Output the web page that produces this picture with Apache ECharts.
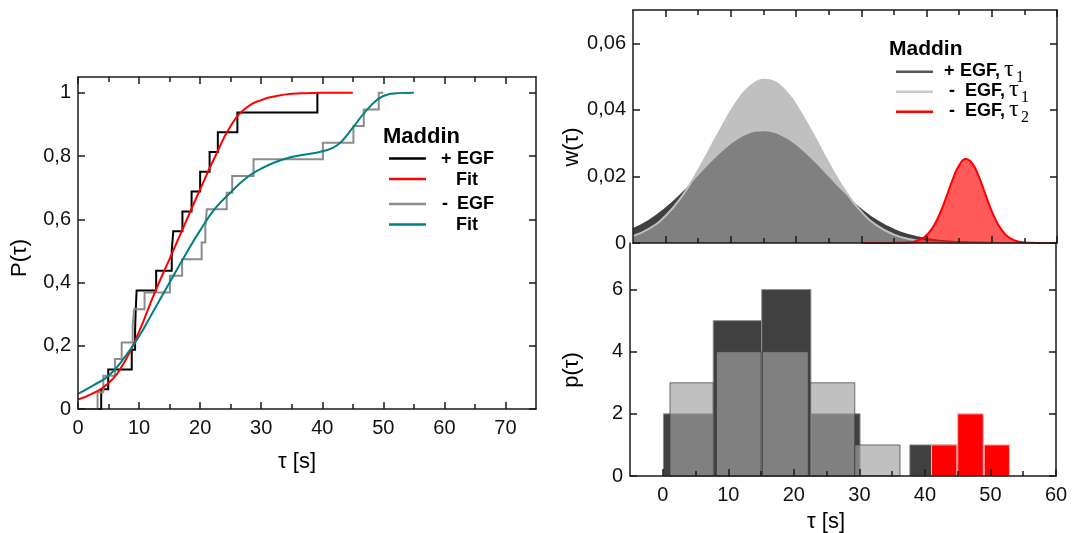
<!DOCTYPE html>
<html><head><meta charset="utf-8">
<script src="https://cdn.jsdelivr.net/npm/echarts@6/dist/echarts.min.js"></script>
<style>html,body{margin:0;padding:0;background:#fff}#c{width:1075px;height:533px}</style>
</head><body><div id="c"></div>
<script>
// ---------- Left panel: cumulative distributions ----------
const egfPlusT = [0, 3.8, 4.95, 8.8, 9.35, 9.45, 9.6, 12.8, 15.35, 15.6, 17.1, 18.6, 20.0, 21.55, 22.9, 26.1, 39.2];
const egfPlusP = [0, 0.0625, 0.125, 0.1875, 0.25, 0.3125, 0.375, 0.4375, 0.5, 0.5625, 0.625, 0.6875, 0.75, 0.8125, 0.875, 0.9375, 1.0];
const egfMinusT = [0, 3.2, 4.15, 6.05, 7.15, 8.95, 9.2, 10.9, 15.05, 17.05, 20.25, 20.85, 21.1, 24.35, 25.25, 28.75, 40.1, 45.1, 46.8, 49.25, 50.0];
const egfMinusP = [0, 0.0526, 0.1053, 0.1579, 0.2105, 0.2632, 0.3158, 0.3684, 0.4211, 0.4737, 0.5263, 0.5789, 0.6316, 0.6842, 0.7368, 0.7895, 0.8421, 0.8947, 0.9474, 1.0, 1.0];
const fitPlusT = [0, 2.5, 5, 7.5, 10, 12.5, 15, 17.5, 20, 22.5, 25, 27.5, 30, 32.5, 35, 37.5, 40, 42.5, 45];
const fitPlusP = [0.030, 0.050, 0.082, 0.145, 0.245, 0.365, 0.475, 0.585, 0.695, 0.800, 0.895, 0.952, 0.977, 0.990, 0.997, 0.999, 1.0, 1.0, 1.0];
const fitMinusT = [0, 2.5, 5, 7.5, 10, 12.5, 15, 17.5, 20, 22.5, 25, 27.5, 30, 32.5, 35, 37.5, 40, 42.5, 45, 47.5, 50, 52.5, 55];
const fitMinusP = [0.048, 0.075, 0.105, 0.160, 0.230, 0.315, 0.400, 0.485, 0.565, 0.635, 0.685, 0.730, 0.760, 0.782, 0.797, 0.806, 0.815, 0.835, 0.890, 0.950, 0.990, 0.999, 1.0];

// ---------- Top right: w(tau) ----------
const wT = [-5, -2.5, 0, 2.5, 5, 7.5, 10, 11.25, 12.5, 13.75, 15, 16.25, 17.5, 18.75, 20, 22.5, 25, 27.5, 30, 32.5, 35, 37.5, 40, 42.5, 45, 47.5, 50, 52.5, 55, 57.5, 60];
const wPlusTau1 = [0.00413, 0.00675, 0.01033, 0.01481, 0.01986, 0.02495, 0.02934, 0.03104, 0.03230, 0.03310, 0.03330, 0.03298, 0.03213, 0.03080, 0.02903, 0.02456, 0.01945, 0.01442, 0.01001, 0.00650, 0.00396, 0.00226, 0.00120, 0.00060, 0.00028, 0.00012, 0.00005, 0.00002, 0.00001, 0, 0];
const wMinusTau1 = [0.00211, 0.00436, 0.00821, 0.01405, 0.02183, 0.03085, 0.03962, 0.04332, 0.04625, 0.04820, 0.04907, 0.04876, 0.04732, 0.04483, 0.04148, 0.03304, 0.02393, 0.01575, 0.00942, 0.00513, 0.00253, 0.00114, 0.00046, 0.00017, 0.00006, 0.00002, 0.00001, 0, 0, 0, 0];
const wT2 = [30, 32, 34, 36, 37, 38, 39, 40, 41, 42, 43, 44, 45, 46, 47, 48, 49, 50, 51, 52, 53, 54, 55, 56, 57, 58, 60];
const wMinusTau2 = [0, 0, 0, 0.00004, 0.00013, 0.00039, 0.00101, 0.00235, 0.00480, 0.00863, 0.01365, 0.01902, 0.02333, 0.02520, 0.02393, 0.02002, 0.01474, 0.00955, 0.00545, 0.00274, 0.00121, 0.00047, 0.00016, 0.00005, 0.00001, 0, 0];

// ---------- Bottom right: histograms p(tau) ----------
const histPlusStart = [0.1, 7.7, 15.1, 22.6, 37.7];
const histPlusEnd = [7.7, 15.1, 22.6, 30.1, 45.1];
const histPlusCount = [2, 5, 6, 2, 1];
const histMinus1Start = [1.1, 8.2, 15.2, 22.5, 29.3];
const histMinus1End = [7.7, 15.0, 22.2, 29.3, 36.2];
const histMinus1Count = [3, 4, 4, 3, 1];
const histMinus2Start = [41.0, 45.0, 49.05];
const histMinus2End = [44.85, 48.9, 52.9];
const histMinus2Count = [1, 2, 1];

// ---------- Ticks ----------
const leftXMajor = [0, 10, 20, 30, 40, 50, 60, 70];
const leftXMinor = [5, 15, 25, 35, 45, 55, 65];
const leftYMajor = [0, 0.2, 0.4, 0.6, 0.8, 1];
const rightXMajor = [0, 10, 20, 30, 40, 50, 60];
const rightXMinor = [5, 15, 25, 35, 45, 55];
const wYMajor = [0, 0.02, 0.04, 0.06];
const pYMajor = [0, 2, 4, 6];

const AX = '#1a1a1a';
const FONT = 'Liberation Sans';
function pairs(a, b) { return a.map((v, i) => [v, b[i]]); }
function triples(a, b, c) { return a.map((v, i) => [v, b[i], c[i]]); }

function xAxis(grid, min, max, pos, ticks, len, opts) {
  opts = opts || {};
  return {
    type: 'value', gridIndex: grid, min: min, max: max, interval: 5, position: pos, z: 10,
    axisLine: { show: opts.line !== false, onZero: false, lineStyle: { color: AX, width: 1.5 } },
    axisTick: { show: true, inside: true, length: len, customValues: ticks, lineStyle: { color: AX, width: 1.5 } },
    axisLabel: opts.labels ? { show: true, customValues: opts.labels, margin: 9, color: '#111', fontFamily: FONT, fontSize: 20, formatter: v => String(v) } : { show: false },
    splitLine: { show: false }
  };
}
function yAxis(grid, min, max, interval, pos, ticks, fmt) {
  return {
    type: 'value', gridIndex: grid, min: min, max: max, interval: interval, position: pos, z: 10,
    axisLine: { show: true, onZero: false, lineStyle: { color: AX, width: 1.5 } },
    axisTick: { show: true, inside: true, length: 7, customValues: ticks, lineStyle: { color: AX, width: 1.5 } },
    axisLabel: fmt ? { show: true, customValues: ticks, margin: 7, color: '#111', fontFamily: FONT, fontSize: 20, formatter: fmt } : { show: false },
    splitLine: { show: false }
  };
}

function barItem(fill, stroke) {
  return function (params, api) {
    const a = api.coord([api.value(0), api.value(2)]);
    const b = api.coord([api.value(1), 0]);
    return { type: 'rect', shape: { x: a[0], y: a[1], width: b[0] - a[0], height: b[1] - a[1] },
      style: { fill: fill, stroke: stroke, lineWidth: 1 } };
  };
}

function T(x, y, text, font, opts) {
  opts = opts || {};
  return { type: 'text', x: x, y: y, rotation: opts.rot || 0, z: 100,
    style: { text: text, font: font, fill: '#000', textAlign: opts.align || 'left', align: opts.align || 'left',
      textVerticalAlign: 'middle', verticalAlign: 'middle' } };
}
function L(x1, x2, y, color) {
  return { type: 'line', z: 100, shape: { x1: x1, y1: y, x2: x2, y2: y }, style: { stroke: color, lineWidth: 2.5 } };
}
const B18 = 'bold 18px "Liberation Sans"';
const TAU = '24px "Liberation Serif"';
const SUB = '16px "Liberation Serif"';
const graphics = [
  T(20, 258, 'P(τ)', '22px "Liberation Sans"', { align: 'center', rot: Math.PI / 2 }),
  T(297, 462, 'τ [s]', '22px "Liberation Sans"', { align: 'center' }),
  T(572, 147, 'w(τ)', '22px "Liberation Sans"', { align: 'center', rot: Math.PI / 2 }),
  T(572, 370, 'p(τ)', '22px "Liberation Sans"', { align: 'center', rot: Math.PI / 2 }),
  T(826, 522, 'τ [s]', '22px "Liberation Sans"', { align: 'center' }),
  // left legend
  T(383, 137, 'Maddin', 'bold 22px "Liberation Sans"'),
  L(389, 426, 158.5, '#000000'), L(389, 426, 179, '#ff0000'), L(389, 426, 204, '#8c8c8c'), L(389, 426, 224.5, '#008080'),
  T(441, 159, '+', B18), T(457, 159, 'EGF', B18),
  T(456, 180, 'Fit', B18),
  T(442, 204.5, '-', B18), T(457, 204.5, 'EGF', B18),
  T(456, 225, 'Fit', B18),
  // right legend
  T(889, 49, 'Maddin', 'bold 21px "Liberation Sans"'),
  L(896, 933, 71.7, '#555555'), L(896, 933, 91.7, '#c8c8c8'), L(896, 933, 111.7, '#ff0000'),
  T(944, 71, '+', B18), T(960, 71, 'EGF,', B18), T(1004, 70, 'τ', TAU), T(1016, 78, '1', SUB),
  T(949, 91, '-', B18), T(965, 91, 'EGF,', B18), T(1009, 90, 'τ', TAU), T(1021, 98, '1', SUB),
  T(949, 111, '-', B18), T(965, 111, 'EGF,', B18), T(1009, 110, 'τ', TAU), T(1021, 118, '2', SUB)
];

const option = {
  animation: false,
  backgroundColor: '#ffffff',
  grid: [
    { left: 78, top: 77, width: 458, height: 332 },
    { left: 633, top: 10, width: 424, height: 233 },
    { left: 630, top: 243, width: 426, height: 233 }
  ],
  xAxis: [
    xAxis(0, 0, 75, 'bottom', leftXMajor, 7, { labels: leftXMajor }),
    xAxis(0, 0, 75, 'bottom', leftXMinor, 5, { line: false }),
    xAxis(0, 0, 75, 'top', leftXMajor, 7),
    xAxis(0, 0, 75, 'top', leftXMinor, 5, { line: false }),
    xAxis(1, -5, 60, 'bottom', rightXMajor, 7),
    xAxis(1, -5, 60, 'bottom', rightXMinor, 5, { line: false }),
    xAxis(1, -5, 60, 'top', rightXMajor, 7),
    xAxis(1, -5, 60, 'top', rightXMinor, 5, { line: false }),
    xAxis(2, -5, 60, 'bottom', rightXMajor, 7, { labels: rightXMajor }),
    xAxis(2, -5, 60, 'bottom', rightXMinor, 5, { line: false })
  ],
  yAxis: [
    yAxis(0, 0, 1.05, 0.05, 'left', leftYMajor, v => v === 0 ? '0' : (v === 1 ? '1' : v.toFixed(1).replace('.', ','))),
    yAxis(0, 0, 1.05, 0.05, 'right', leftYMajor),
    yAxis(1, 0, 0.07, 0.01, 'left', wYMajor, v => v === 0 ? '0' : v.toFixed(2).replace('.', ',')),
    yAxis(1, 0, 0.07, 0.01, 'right', wYMajor),
    yAxis(2, 0, 7.5, 0.5, 'left', pYMajor, v => String(v)),
    yAxis(2, 0, 7.5, 0.5, 'right', pYMajor)
  ],
  graphic: graphics,
  series: [
    { type: 'line', xAxisIndex: 0, yAxisIndex: 0, step: 'end', symbol: 'none', data: pairs(egfPlusT, egfPlusP),
      lineStyle: { color: '#000000', width: 2, join: 'miter' } },
    { type: 'line', xAxisIndex: 0, yAxisIndex: 0, step: 'end', symbol: 'none', data: pairs(egfMinusT, egfMinusP),
      lineStyle: { color: '#8c8c8c', width: 2, join: 'miter' } },
    { type: 'line', xAxisIndex: 0, yAxisIndex: 0, smooth: 0.5, symbol: 'none', data: pairs(fitPlusT, fitPlusP),
      lineStyle: { color: '#ff0000', width: 2 } },
    { type: 'line', xAxisIndex: 0, yAxisIndex: 0, smooth: 0.5, symbol: 'none', data: pairs(fitMinusT, fitMinusP),
      lineStyle: { color: '#008080', width: 2 } },

    { type: 'line', z: 2, xAxisIndex: 4, yAxisIndex: 2, smooth: 0.5, symbol: 'none', data: pairs(wT, wPlusTau1),
      lineStyle: { color: '#404040', width: 2 }, areaStyle: { color: '#404040', opacity: 1 } },
    { type: 'line', z: 3, xAxisIndex: 4, yAxisIndex: 2, smooth: 0.5, symbol: 'none', data: pairs(wT, wMinusTau1),
      lineStyle: { color: '#c0c0c0', width: 2 }, areaStyle: { color: 'rgba(160,160,160,0.665)', opacity: 1 } },
    { type: 'line', z: 4, xAxisIndex: 4, yAxisIndex: 2, smooth: 0.5, symbol: 'none', data: pairs(wT2, wMinusTau2),
      lineStyle: { color: '#ff0000', width: 2 }, areaStyle: { color: 'rgba(255,0,0,0.65)', opacity: 1 } },

    { type: 'custom', xAxisIndex: 8, yAxisIndex: 4, renderItem: barItem('#404040', '#8c8c8c'),
      encode: { x: [0, 1], y: 2 }, data: triples(histPlusStart, histPlusEnd, histPlusCount) },
    { type: 'custom', xAxisIndex: 8, yAxisIndex: 4, renderItem: barItem('rgba(160,160,160,0.665)', 'rgba(60,60,60,0.7)'),
      encode: { x: [0, 1], y: 2 }, data: triples(histMinus1Start, histMinus1End, histMinus1Count) },
    { type: 'custom', xAxisIndex: 8, yAxisIndex: 4, renderItem: barItem('#ff0000', '#ffb0b0'),
      encode: { x: [0, 1], y: 2 }, data: triples(histMinus2Start, histMinus2End, histMinus2Count) }
  ]
};
echarts.init(document.getElementById('c'), null, { renderer: 'canvas' }).setOption(option);
</script>
</body></html>
